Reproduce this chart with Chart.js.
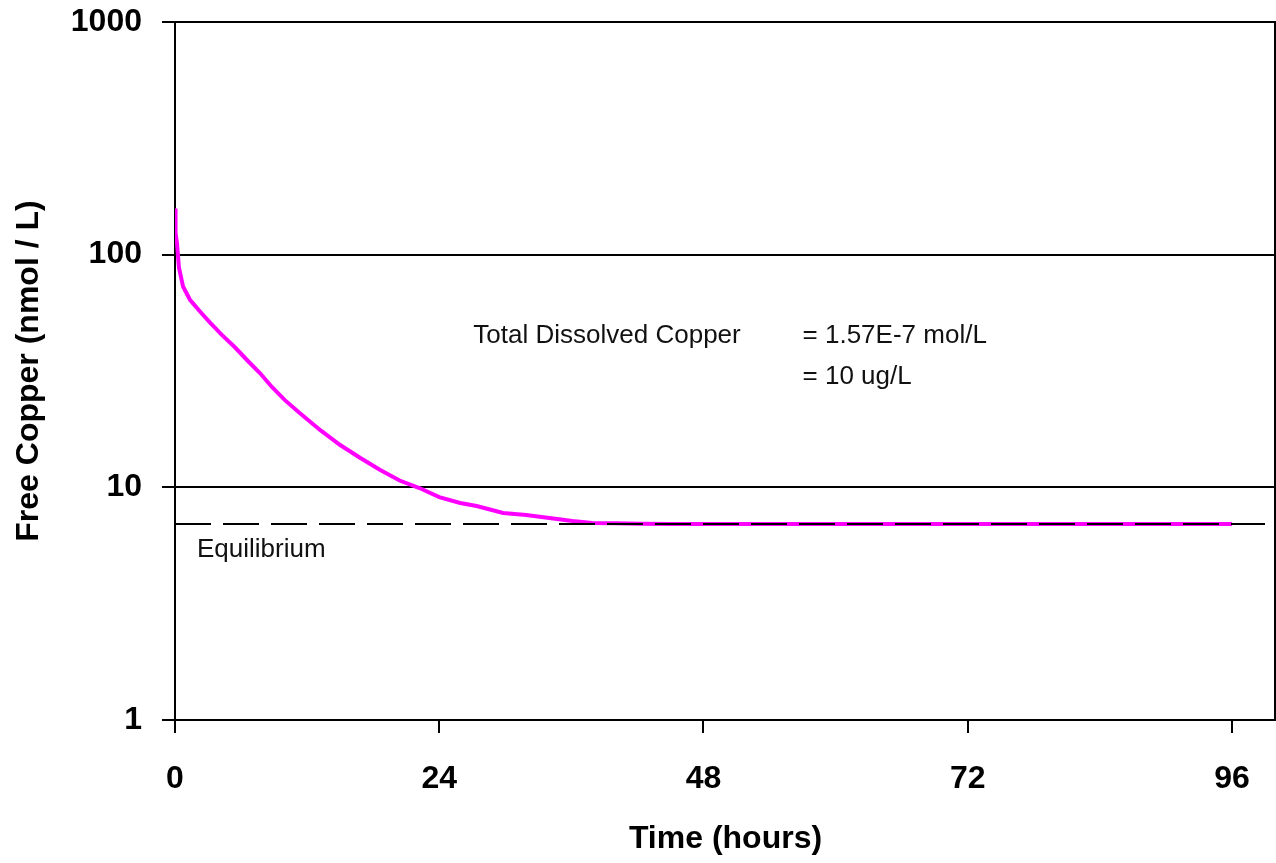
<!DOCTYPE html>
<html>
<head>
<meta charset="utf-8">
<script src="https://cdn.jsdelivr.net/npm/chart.js@4/dist/chart.umd.min.js"></script>
<style>
  body { margin: 0; background: #fff; }
  #wrap { width: 1276px; height: 863px; position: relative; }
</style>
</head>
<body>
<div id="wrap"><canvas id="chart"></canvas></div>
<script>
// time in hours and free copper (nmol/L)
const hours = [0, 0.05, 0.18, 0.36, 0.73, 1.36, 2.27, 3.18, 4.3, 5.44, 6.6, 7.71, 8.8, 9.98,
  11.3, 13.2, 15.0, 16.8, 18.6, 20.4, 22.2, 24.0, 25.9, 27.4, 29.8, 31.9, 34.0, 36.1, 37.9,
  40, 42.2, 45, 50, 60, 72, 84, 96];
const freeCopper = [158, 124, 112, 88, 73, 64, 57, 51, 45, 40, 35, 31, 27, 23.7,
  20.9, 17.6, 15.2, 13.4, 11.9, 10.7, 9.93, 9.08, 8.57, 8.31, 7.76, 7.6, 7.38, 7.16, 7.03,
  7.0, 6.97, 6.96, 6.95, 6.95, 6.95, 6.95, 6.95];

// equilibrium level (dashed)
const eqHours = [0, 99];
const eqCopper = [6.95, 6.95];

const xTicks = [0, 24, 48, 72, 96];
const yTicks = [1, 10, 100, 1000];

const boldFont = { family: "'Liberation Sans', Arial, sans-serif", size: 32, weight: 'bold' };

// right border + text notes
const notes = {
  id: 'notes',
  afterDraw(c) {
    const ctx = c.ctx, a = c.chartArea, x = c.scales.x, y = c.scales.y;
    ctx.save();
    ctx.strokeStyle = '#000';
    ctx.lineWidth = 2;
    ctx.beginPath();
    ctx.moveTo(a.right - 1, a.top);
    ctx.lineTo(a.right - 1, a.bottom);
    ctx.stroke();

    ctx.fillStyle = '#111';
    ctx.font = "26px 'Liberation Sans', Arial, sans-serif";
    ctx.textBaseline = 'alphabetic';
    ctx.textAlign = 'left';
    ctx.fillText('Total Dissolved Copper', x.getPixelForValue(27.1), y.getPixelForValue(41.7));
    ctx.fillText('= 1.57E-7 mol/L', x.getPixelForValue(57.0), y.getPixelForValue(41.7));
    ctx.fillText('= 10 ug/L', x.getPixelForValue(57.0), y.getPixelForValue(27.8));
    ctx.fillText('Equilibrium', x.getPixelForValue(2.0), y.getPixelForValue(5.02));
    ctx.restore();
  }
};

new Chart(document.getElementById('chart'), {
  type: 'line',
  data: {
    datasets: [
      {
        data: eqHours.map((t, i) => ({ x: t, y: eqCopper[i] })),
        borderColor: '#000',
        borderWidth: 2,
        borderDash: [36, 12],
        pointRadius: 0,
        order: 0
      },
      {
        data: hours.map((t, i) => ({ x: t, y: freeCopper[i] })),
        borderColor: '#ff00ff',
        borderWidth: 4,
        pointRadius: 0,
        tension: 0,
        order: 1
      }
    ]
  },
  options: {
    responsive: true,
    maintainAspectRatio: false,
    animation: false,
    layout: { padding: { top: 22, right: 0, left: 0, bottom: 0 } },
    plugins: { legend: { display: false }, tooltip: { enabled: false } },
    scales: {
      x: {
        type: 'linear',
        min: 0,
        max: 100,
        afterBuildTicks: s => { s.ticks = xTicks.map(v => ({ value: v })); },
        afterFit: s => { s.height = 143; s.paddingLeft = 0; s.paddingRight = 0; },
        grid: { drawOnChartArea: false, color: '#000', lineWidth: 2, tickLength: 13 },
        border: { color: '#000', width: 2 },
        ticks: { color: '#000', font: boldFont, padding: 27, maxRotation: 0 },
        title: { display: true, text: 'Time (hours)', color: '#000', font: boldFont, padding: { top: 0, bottom: 5 } }
      },
      y: {
        type: 'logarithmic',
        min: 1,
        max: 1000,
        afterBuildTicks: s => { s.ticks = yTicks.map(v => ({ value: v })); },
        afterFit: s => { s.width = 175; s.paddingTop = 0; s.paddingBottom = 0; },
        grid: { color: '#000', lineWidth: 2, tickLength: 13 },
        border: { color: '#000', width: 2 },
        ticks: { color: '#000', font: boldFont, padding: 20, callback: v => String(v) },
        title: { display: true, text: 'Free Copper (nmol / L)', color: '#000', font: boldFont, padding: { top: 10, bottom: 0 } }
      }
    }
  },
  plugins: [notes]
});
</script>
</body>
</html>
